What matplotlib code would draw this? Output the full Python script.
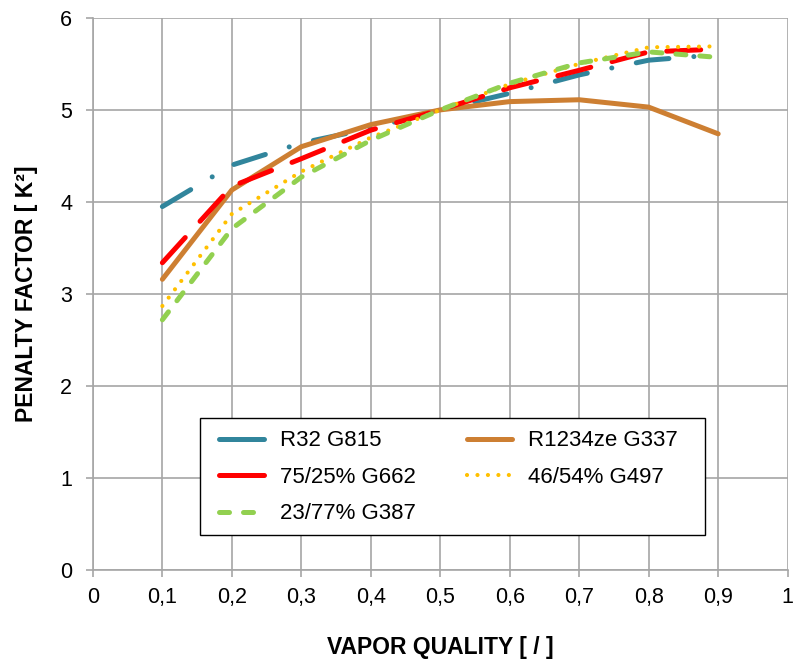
import matplotlib
matplotlib.use("Agg")
import matplotlib.pyplot as plt
from matplotlib.lines import Line2D
from matplotlib.patches import Rectangle

plt.rcParams['font.family'] = ['Liberation Sans', 'DejaVu Sans']

quality = [0.1, 0.2, 0.3, 0.4, 0.5, 0.6, 0.7, 0.8, 0.9]
r32_g815 = [3.95, 4.40, 4.64, 4.80, 5.00, 5.18, 5.38, 5.54, 5.60]
r1234ze_g337 = [3.16, 4.13, 4.60, 4.84, 5.00, 5.09, 5.11, 5.03, 4.74]
mix75_g662 = [3.34, 4.17, 4.47, 4.78, 5.00, 5.24, 5.43, 5.63, 5.66]
mix46_g497 = [2.87, 3.87, 4.33, 4.70, 5.00, 5.28, 5.50, 5.68, 5.69]
mix23_g387 = [2.72, 3.71, 4.27, 4.67, 5.00, 5.29, 5.51, 5.63, 5.57]

x_ticks = [0, 0.1, 0.2, 0.3, 0.4, 0.5, 0.6, 0.7, 0.8, 0.9, 1]
x_tick_labels = ['0', '0,1', '0,2', '0,3', '0,4', '0,5', '0,6', '0,7', '0,8', '0,9', '1']
y_ticks = [0, 1, 2, 3, 4, 5, 6]

C_R32 = '#31859C'
C_R1234 = '#CD7F32'
C_75 = '#FF0000'
C_46 = '#FFC000'
C_23 = '#92D050'

fig = plt.figure(figsize=(7.94, 6.6), dpi=100)
ax = fig.add_axes([0.117, 0.136, 0.875, 0.837])

lw = 3.6
ax.plot(quality, r32_g815, color=C_R32, lw=lw, dash_capstyle='round',
        linestyle=(0, (6.6, 5, 0.01, 5)), zorder=3)
ax.plot(quality, r1234ze_g337, color=C_R1234, lw=lw, solid_capstyle='round',
        solid_joinstyle='round', linestyle='-', zorder=3)
ax.plot(quality, mix75_g662, color=C_75, lw=lw, dash_capstyle='round',
        linestyle=(0, (6.8, 4.4)), zorder=3)
ax.plot(quality, mix46_g497, color=C_46, lw=3.0, dash_capstyle='round',
        linestyle=(0, (0.01, 2.5)), zorder=3)
ax.plot(quality, mix23_g387, color=C_23, lw=lw, dash_capstyle='round',
        linestyle=(0, (2.0, 2.8)), zorder=4)

ax.set_xlim(0, 1)
ax.set_ylim(0, 6)
ax.set_xticks(x_ticks)
ax.set_xticklabels(x_tick_labels)
ax.set_yticks(y_ticks)
ax.grid(True, color='#A6A6A6', lw=1.2)
ax.set_axisbelow(True)
for side in ['top', 'right']:
    ax.spines[side].set_visible(False)
for side in ['left', 'bottom']:
    ax.spines[side].set_color('#A6A6A6')
    ax.spines[side].set_linewidth(1.2)
ax.tick_params(axis='both', colors='#A6A6A6', labelcolor='black',
               labelsize=15.5, length=5, width=1.2, direction='out')
ax.tick_params(axis='x', pad=7)
ax.tick_params(axis='y', pad=10)

ax.set_xlabel('VAPOR QUALITY [ / ]', fontsize=16.5, fontweight='bold', labelpad=20)
ax.set_ylabel('PENALTY FACTOR [ K\u00b2]', fontsize=16.5, fontweight='bold', labelpad=16)

# legend box drawn as a fixed-size panel, entries placed inside it
ax.add_patch(Rectangle((0.154, 0.0634), 0.727, 0.212, transform=ax.transAxes,
                       facecolor='white', edgecolor='black', lw=1.0, zorder=5))

# legend entries, ordered so the two-column layout reads row by row
handles = [
    Line2D([], [], color=C_R32, lw=lw, solid_capstyle='round'),
    Line2D([], [], color=C_75, lw=lw, solid_capstyle='round'),
    Line2D([], [], color=C_23, lw=lw, dash_capstyle='round', linestyle=(0, (2.0, 2.8))),
    Line2D([], [], color=C_R1234, lw=lw, solid_capstyle='round'),
    Line2D([], [], color=C_46, lw=3.0, dash_capstyle='round', linestyle=(0, (0.01, 2.5))),
]
labels = ['R32 G815', '75/25% G662', '23/77% G387', 'R1234ze G337', '46/54% G497']

leg = ax.legend(handles, labels, loc='upper left',
                bbox_to_anchor=(0.164, 0.2754),
                ncol=2, fontsize=16, frameon=False,
                handlelength=2.0, handletextpad=0.75,
                borderaxespad=0, labelspacing=0.7, borderpad=0.55,
                columnspacing=2.3)
leg.set_zorder(6)

fig.savefig('out.png', dpi=100)
